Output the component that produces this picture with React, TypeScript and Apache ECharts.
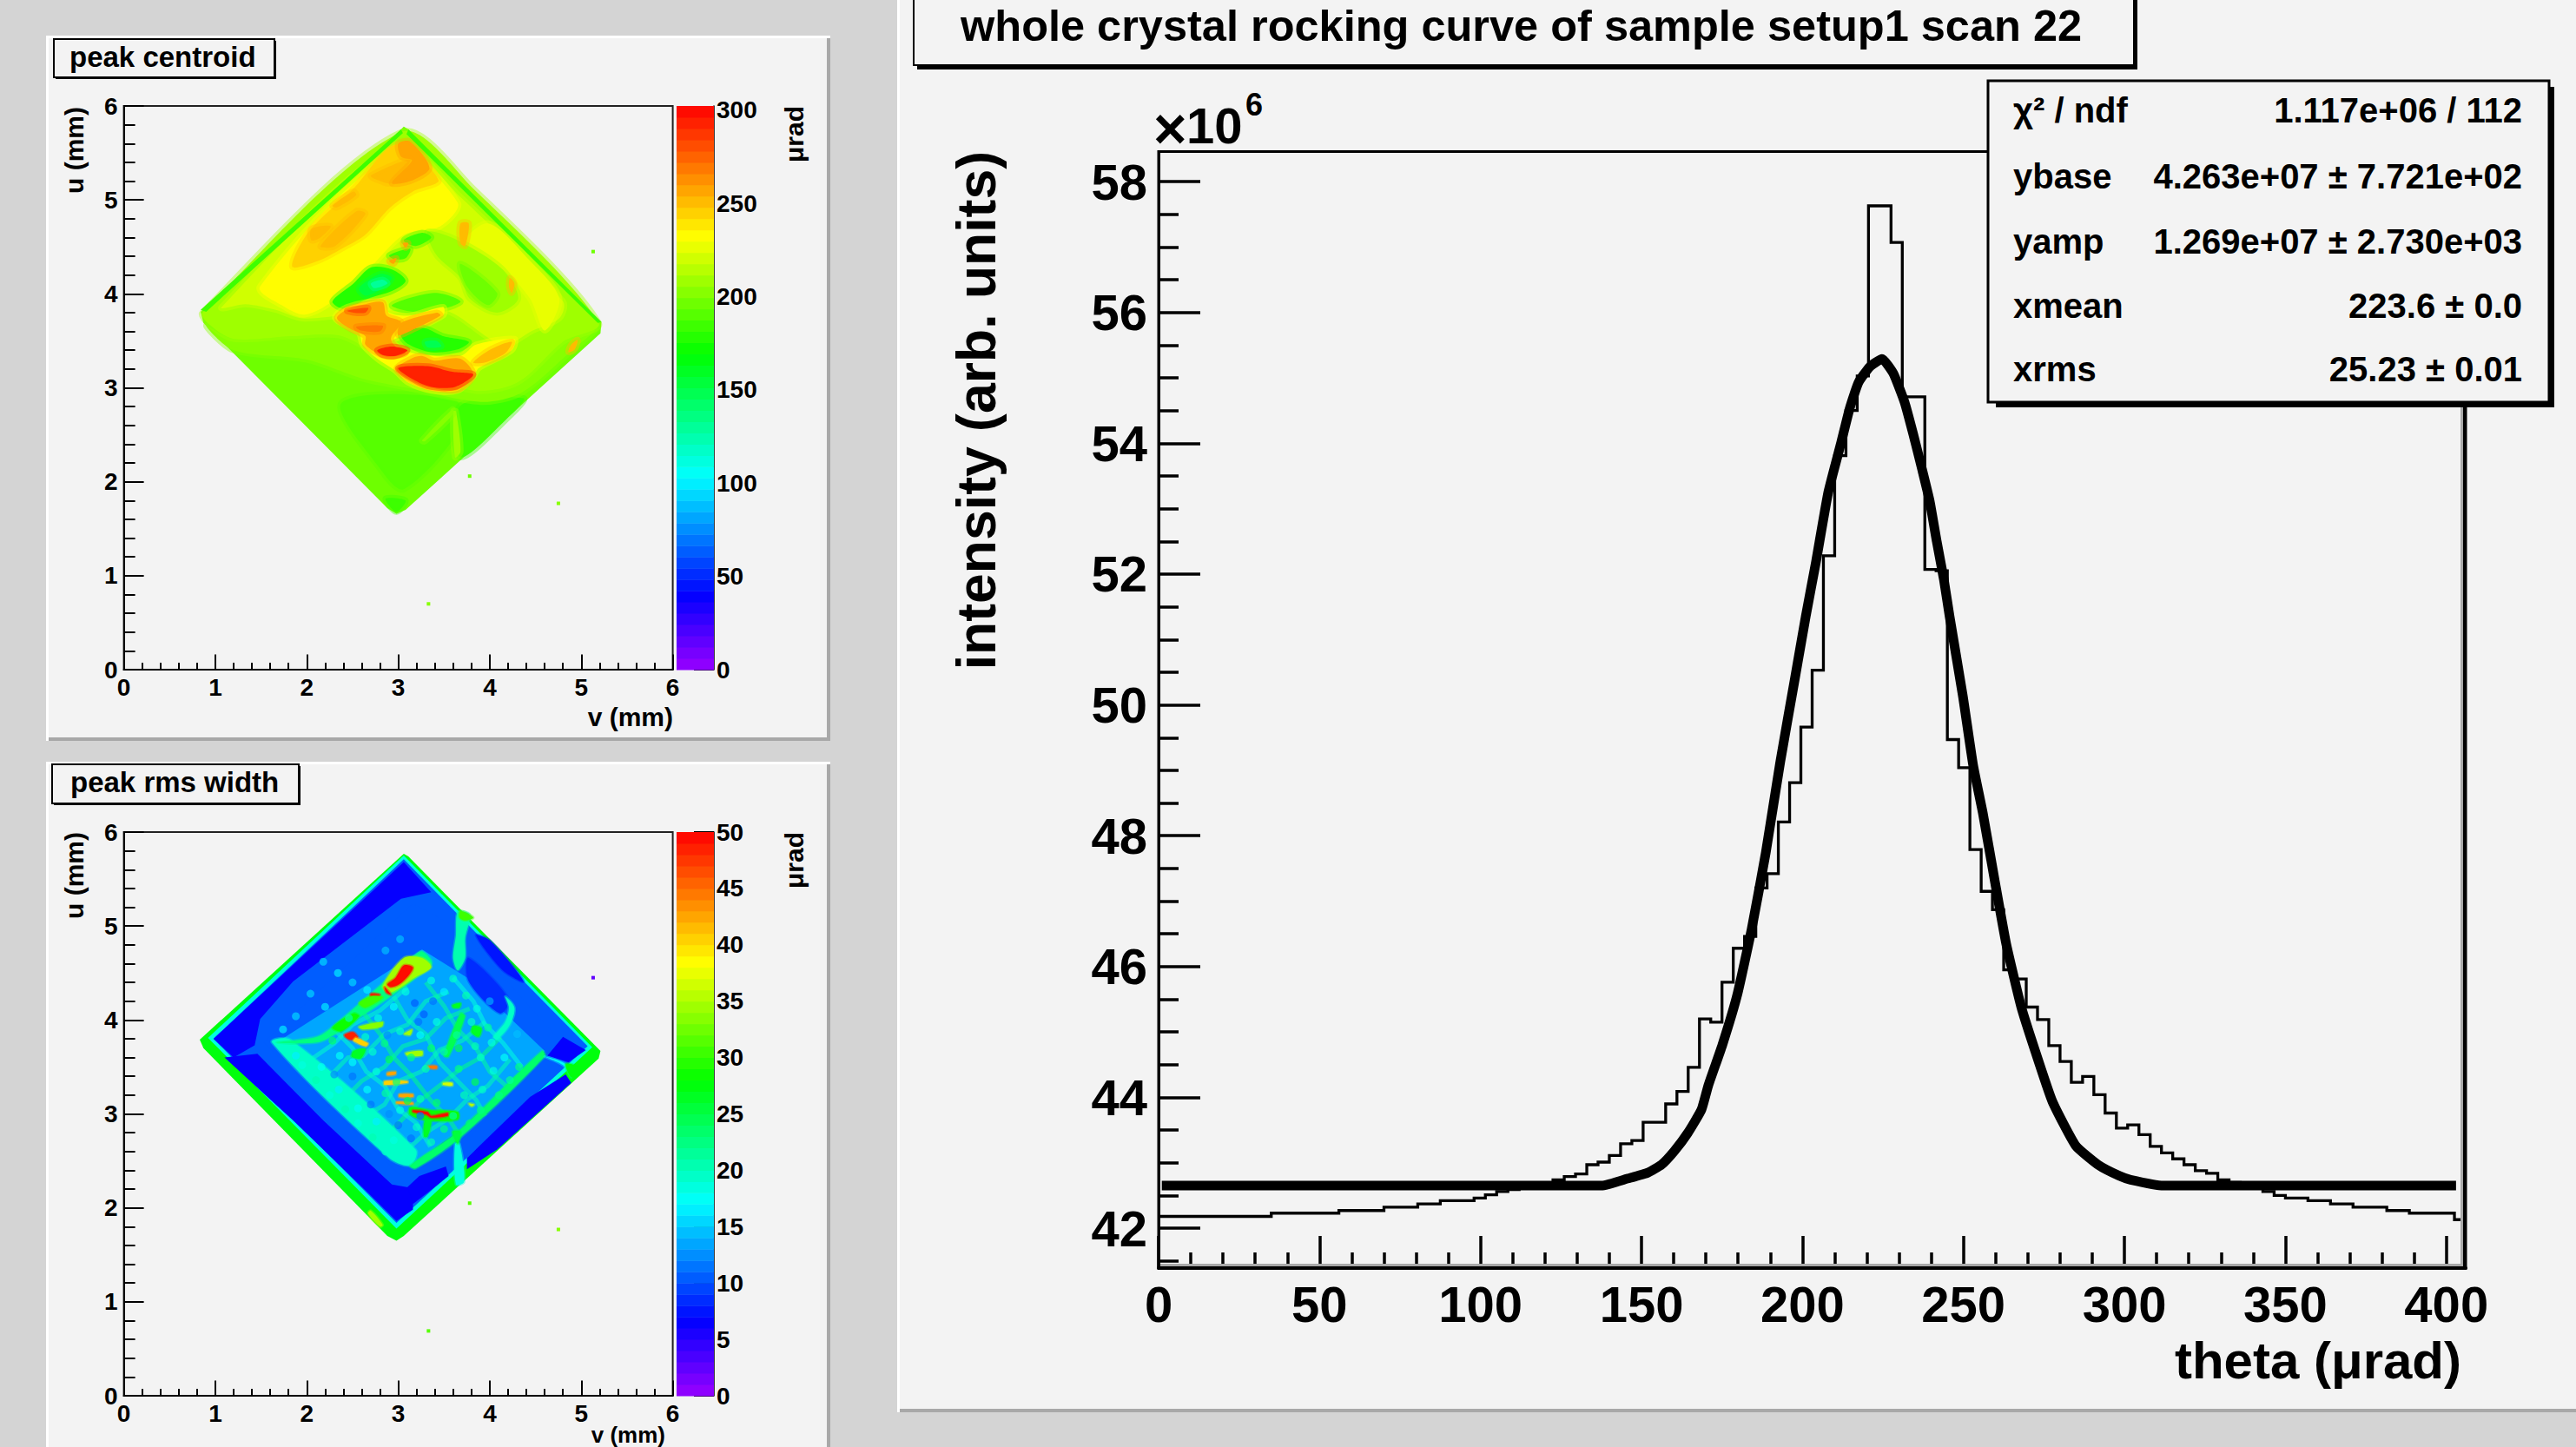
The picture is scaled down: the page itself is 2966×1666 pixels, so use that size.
import React, { useEffect, useRef } from "react";
import * as echarts from "echarts";

const FONT = '"Liberation Sans"';

// ---------- rocking curve ----------
const thetaMax = 406;
const binWidth = 3.5;
const intensityBins = [
  42.18, 42.18, 42.18, 42.18, 42.18, 42.18, 42.18, 42.18, 42.18, 42.18,
  42.23, 42.23, 42.23, 42.23, 42.23, 42.23, 42.27, 42.27, 42.27, 42.27,
  42.32, 42.32, 42.32, 42.37, 42.37, 42.42, 42.42, 42.42, 42.46, 42.51,
  42.56, 42.59, 42.62, 42.65, 42.69, 42.74, 42.79, 42.83, 42.97, 43.01,
  43.11, 43.29, 43.34, 43.62, 43.62, 43.9, 44.09, 44.46, 45.2, 45.15,
  45.76, 46.28, 46.46, 47.2, 47.42, 48.21, 48.81, 49.66, 50.53, 52.28,
  53.81, 54.5, 55.03, 57.63, 57.63, 57.07, 54.71, 54.71, 52.07, 52.05,
  49.47, 49.04, 47.79, 47.15, 46.87, 45.95, 45.81, 45.38, 45.19, 44.79,
  44.55, 44.23, 44.32, 44.04, 43.76, 43.53, 43.58, 43.43, 43.25, 43.15,
  43.06, 42.97, 42.88, 42.84, 42.74, 42.7, 42.66, 42.61, 42.56, 42.5,
  42.46, 42.46, 42.42, 42.42, 42.37, 42.37, 42.32, 42.32, 42.32, 42.27,
  42.27, 42.23, 42.23, 42.23, 42.23, 42.13,
];
const fitCurve = [
  [1, 42.65], [137.6, 42.65], [145.8, 42.76], [152, 42.85], [156.2, 42.97], [160.2, 43.18],
  [164.3, 43.45], [168.6, 43.81], [170.8, 44.19], [175.1, 44.8], [179.7, 45.56], [184.2, 46.57],
  [188.6, 47.74], [193.1, 49.13], [197.7, 50.42], [201, 51.35], [204.2, 52.19], [208, 53.25],
  [212, 54.01], [214.7, 54.54], [217.4, 54.93], [220.9, 55.17], [224.7, 55.29], [228.2, 55.07],
  [231.7, 54.63], [234.4, 54.14], [237.1, 53.61], [239.5, 53.12], [241.7, 52.5], [243.9, 51.92],
  [245.7, 51.35], [249.8, 50.14], [253, 49.08], [256, 48.35], [259.8, 47.29], [263.3, 46.34],
  [267.9, 45.39], [272.2, 44.72], [277.6, 43.94], [284.9, 43.26], [292.1, 42.96], [298.4, 42.8],
  [301.9, 42.74], [312.1, 42.65], [403, 42.65],
];
const thetaMajor = [0, 50, 100, 150, 200, 250, 300, 350, 400];
const thetaMinor = [
  10, 20, 30, 40, 60, 70, 80, 90, 110, 120, 130, 140, 160, 170, 180, 190, 210, 220, 230, 240,
  260, 270, 280, 290, 310, 320, 330, 340, 360, 370, 380, 390,
];
const intensityMajor = [42, 44, 46, 48, 50, 52, 54, 56, 58];
const intensityMinor = [
  41.5, 42.5, 43, 43.5, 44.5, 45, 45.5, 46.5, 47, 47.5, 48.5, 49, 49.5, 50.5, 51, 51.5,
  52.5, 53, 53.5, 54.5, 55, 55.5, 56.5, 57, 57.5,
];
const statLabels = ["χ² / ndf", "ybase", "yamp", "xmean", "xrms"];
const statValues = [
  "1.117e+06 / 112",
  "4.263e+07 ± 7.721e+02",
  "1.269e+07 ± 2.730e+03",
  "223.6 ± 0.0",
  "25.23 ± 0.01",
];

// ---------- maps ----------
const mmMajor = [0, 1, 2, 3, 4, 5, 6];
const mmMinor = [
  0.2, 0.4, 0.6, 0.8, 1.2, 1.4, 1.6, 1.8, 2.2, 2.4, 2.6, 2.8, 3.2, 3.4, 3.6, 3.8, 4.2, 4.4, 4.6,
  4.8, 5.2, 5.4, 5.6, 5.8,
];
const centroidTicks = [0, 50, 100, 150, 200, 250, 300];
const rmsTicks = [0, 5, 10, 15, 20, 25, 30, 35, 40, 45, 50];
const centroidMax = 302.3;
const rmsMax = 50;
const paletteStops: [number, number[]][] = [
  [0, [153, 0, 255]],
  [0.134, [0, 0, 255]],
  [0.343, [0, 255, 255]],
  [0.56, [0, 255, 0]],
  [0.768, [255, 255, 0]],
  [1, [255, 0, 0]],
];
const paletteBands = 50;

// each patch: [level, v, u, v, u, ...]
const centroidCrisp = [
  [198, 3.06, 5.78, 3.11, 5.75, 5.22, 3.7, 5.21, 3.58, 3.08, 1.7, 2.98, 1.66, 2.88, 1.72, 0.87, 3.69, 0.84, 3.81, 3.03, 5.75],
];
const centroidBlobs = [
  [192, 2.38, 2.84, 3.62, 2.87, 3.65, 2.53, 3.06, 1.92, 2.83, 2.1],
  [186, 3.68, 2.81, 4.37, 2.89, 4.24, 2.72, 3.68, 2.26],
  [184, 2.86, 1.82, 3.08, 1.8, 2.98, 1.68],
  [203, 0.9, 3.66, 1.2, 3.4, 2.0, 3.3, 2.6, 3.1, 3.1, 3.0, 3.9, 2.85, 4.35, 2.95, 4.9, 3.4, 5.15, 3.62, 4.8, 3.49, 4.31, 3.06, 3.82, 2.97, 2.97, 3.24, 2.38, 3.55, 1.85, 3.55, 1.2, 3.52],
  [208, 0.86, 3.8, 3.03, 5.72, 3.82, 5.12, 5.19, 3.69, 4.8, 3.49, 4.31, 3.06, 3.82, 2.97, 2.97, 3.24, 2.38, 3.55, 1.85, 3.55, 1.2, 3.52, 0.94, 3.67],
  [220, 1.07, 3.86, 2.98, 5.57, 3.68, 5.03, 4.8, 3.92, 4.76, 3.74, 4.47, 3.61, 4.14, 3.46, 3.49, 3.83, 2.38, 3.77, 1.95, 3.74, 1.66, 3.83, 1.33, 3.89],
  [231, 1.49, 4.08, 2.98, 5.49, 3.65, 4.97, 3.46, 4.72, 3.06, 4.63, 2.7, 4.29, 2.28, 3.92, 1.98, 3.78, 1.76, 3.86],
  [228, 3.68, 4.48, 3.98, 4.75, 4.44, 4.35, 4.76, 3.95, 4.6, 3.61, 4.44, 3.95, 4.14, 4.26],
  [246, 1.84, 4.29, 2.02, 4.66, 2.51, 5.12, 2.98, 5.59, 3.44, 5.21, 3.16, 5.09, 2.9, 4.91, 2.64, 4.63, 2.38, 4.48, 2.12, 4.35],
  [253, 2.28, 4.94, 2.51, 5.09, 2.54, 5.05, 2.33, 4.92],
  [253, 2.7, 5.26, 3.13, 5.43, 2.93, 5.18, 2.75, 5.22],
  [255, 3.0, 5.6, 3.13, 5.62, 3.34, 5.34, 3.13, 5.2, 2.93, 5.18, 3.15, 5.42, 3.03, 5.46],
  [253, 2.15, 4.51, 2.54, 4.88, 2.64, 4.85, 2.31, 4.51],
  [253, 2.05, 4.69, 2.26, 4.72, 2.15, 4.6, 2.05, 4.57],
  [208, 3.32, 4.66, 3.65, 4.57, 4.14, 4.26, 4.31, 3.95, 4.08, 3.8, 3.78, 3.95, 3.68, 4.17, 3.42, 4.41],
  [195, 3.68, 4.32, 4.08, 4.01, 3.98, 3.88, 3.75, 4.08],
  [180, 2.28, 3.92, 2.51, 4.11, 2.7, 4.28, 2.93, 4.26, 3.08, 4.14, 2.93, 4.03, 2.67, 3.95, 2.41, 3.84],
  [155, 2.57, 4.06, 2.8, 4.21, 2.93, 4.17, 2.83, 4.06, 2.64, 3.98],
  [128, 2.7, 4.11, 2.83, 4.15, 2.88, 4.11, 2.74, 4.06],
  [182, 3.06, 4.57, 3.26, 4.65, 3.36, 4.6, 3.19, 4.51],
  [182, 2.9, 4.41, 3.13, 4.48, 3.08, 4.38, 2.95, 4.37],
  [188, 2.93, 3.88, 3.39, 4.01, 3.68, 3.92, 3.49, 3.84, 3.16, 3.81],
  [232, 2.31, 3.74, 2.44, 3.86, 2.83, 3.92, 2.9, 3.8, 3.13, 3.77, 3.49, 3.86, 3.49, 3.77, 3.03, 3.55, 2.93, 3.49, 3.16, 3.37, 3.68, 3.34, 3.85, 3.46, 4.27, 3.52, 4.24, 3.4, 3.88, 3.21, 3.82, 3.12, 3.65, 2.97, 3.36, 2.97, 3.1, 3.06, 2.97, 3.18, 2.77, 3.31, 2.61, 3.46, 2.57, 3.58],
  [178, 3.03, 3.57, 3.26, 3.64, 3.49, 3.55, 3.77, 3.49, 3.65, 3.41, 3.36, 3.38, 3.1, 3.47],
  [150, 3.29, 3.49, 3.42, 3.5, 3.47, 3.44, 3.32, 3.43],
  [256, 2.43, 3.83, 2.64, 3.89, 2.83, 3.91, 2.87, 3.77, 3.03, 3.7, 2.92, 3.53, 2.98, 3.43, 3.08, 3.37, 2.9, 3.33, 2.77, 3.37, 2.64, 3.46, 2.64, 3.55, 2.47, 3.63, 2.33, 3.74],
  [256, 3.03, 3.69, 3.42, 3.8, 3.46, 3.77, 3.16, 3.62, 3.0, 3.56],
  [283, 2.44, 3.82, 2.67, 3.85, 2.64, 3.8, 2.51, 3.8],
  [272, 2.54, 3.65, 2.83, 3.66, 2.8, 3.6, 2.59, 3.61],
  [292, 2.77, 3.4, 2.93, 3.44, 3.1, 3.4, 2.97, 3.34, 2.83, 3.35],
  [258, 3.16, 3.32, 3.26, 3.34, 3.39, 3.29, 3.68, 3.31, 3.82, 3.14, 3.65, 2.98, 3.36, 3.0, 3.16, 3.07, 2.98, 3.2],
  [292, 3.0, 3.21, 3.32, 3.23, 3.59, 3.17, 3.82, 3.14, 3.62, 3.01, 3.36, 3.01, 3.16, 3.09],
  [250, 3.82, 3.27, 4.01, 3.41, 4.24, 3.49, 4.17, 3.37, 3.95, 3.27],
  [250, 3.68, 4.75, 3.77, 4.75, 3.73, 4.51, 3.68, 4.54],
  [250, 4.22, 4.17, 4.27, 4.11, 4.24, 4.01, 4.21, 4.08],
  [250, 4.89, 3.46, 4.96, 3.51, 4.93, 3.41, 4.86, 3.38],
  [255, 2.9, 4.35, 2.98, 4.38, 2.95, 4.32],
  [255, 3.05, 4.54, 3.11, 4.54, 3.08, 4.49],
  [208, 3.6, 2.75, 3.63, 2.75, 3.68, 2.32, 3.62, 2.26],
  [204, 3.26, 2.44, 3.59, 2.77, 3.6, 2.72, 3.29, 2.43],
];
const centroidEdges = [
  [186, 3.11, 5.75, 5.22, 3.7, 5.18, 3.69, 3.09, 5.7],
  [186, 0.84, 3.83, 3.03, 5.75, 3.05, 5.71, 0.9, 3.81],
];
const centroidDots = [[3.78, 2.06, 195], [4.75, 1.77, 205], [5.13, 4.45, 195], [3.33, 0.7, 205]];

const rmsCrisp = [
  [27, 3.06, 5.77, 3.11, 5.74, 5.21, 3.67, 5.19, 3.59, 3.06, 1.7, 2.98, 1.65, 2.88, 1.7, 0.87, 3.7, 0.83, 3.79],
  [18, 3.06, 5.75, 5.12, 3.71, 2.98, 1.78, 0.92, 3.81],
  [10, 3.06, 5.71, 5.07, 3.72, 2.98, 1.84, 0.98, 3.8],
  [6.5, 0.98, 3.8, 3.06, 5.68, 3.36, 5.36, 3.03, 5.29, 2.64, 5.0, 1.85, 4.41, 1.49, 4.01, 1.43, 3.73, 1.2, 3.6],
  [6.5, 1.1, 3.6, 1.46, 3.64, 2.18, 2.93, 2.93, 2.25, 3.16, 2.21, 3.16, 1.98, 2.98, 1.86, 2.7, 2.13, 1.85, 2.93],
  [10.5, 1.53, 3.76, 3.16, 5.24, 3.68, 4.96, 4.76, 3.79, 4.57, 3.55, 3.65, 2.62, 3.03, 2.34],
  [6.5, 3.75, 2.53, 4.44, 3.18, 4.83, 3.42, 4.89, 3.33, 4.08, 2.62, 3.75, 2.41],
  [6.5, 3.23, 2.34, 3.52, 2.44, 3.55, 2.34, 3.32, 2.16, 3.16, 2.04, 3.1, 2.22],
  [6.5, 4.63, 3.62, 4.8, 3.82, 5.05, 3.68, 4.86, 3.55],
  [13.5, 1.67, 3.76, 3.26, 4.75, 3.77, 4.44, 4.6, 3.67, 3.65, 2.81, 3.13, 2.45],
];
// crooked network lines of the mottled inner square: [level, v, u, v, u, ...]
const rmsNetwork = [
  [19, 2.0, 3.55, 2.3, 3.75, 2.5, 3.95, 2.8, 4.1, 3.1, 4.35],
  [20, 2.2, 3.35, 2.45, 3.6, 2.62, 3.62, 2.85, 3.85, 3.1, 3.95, 3.3, 4.2, 3.55, 4.3],
  [21, 2.4, 3.15, 2.6, 3.35, 2.85, 3.5, 3.05, 3.72, 3.3, 3.8, 3.52, 4.02, 3.78, 4.12],
  [20, 2.6, 2.95, 2.85, 3.1, 3.0, 3.35, 3.25, 3.45, 3.45, 3.68, 3.7, 3.78, 3.95, 3.98],
  [22, 2.85, 2.75, 3.05, 2.95, 3.25, 3.15, 3.45, 3.3, 3.68, 3.48, 3.9, 3.6, 4.12, 3.82],
  [20, 3.1, 2.62, 3.3, 2.8, 3.55, 2.95, 3.75, 3.15, 3.98, 3.3, 4.22, 3.58],
  [19, 2.3, 3.9, 2.5, 3.7, 2.65, 3.45, 2.85, 3.3, 3.0, 3.05, 3.2, 2.9, 3.35, 2.65],
  [22, 2.6, 4.1, 2.8, 3.85, 2.95, 3.6, 3.15, 3.4, 3.35, 3.15, 3.55, 2.95, 3.65, 2.8],
  [20, 2.95, 4.25, 3.1, 4.0, 3.3, 3.85, 3.45, 3.55, 3.65, 3.35, 3.85, 3.15, 3.95, 2.98],
  [21, 3.3, 4.4, 3.5, 4.15, 3.65, 3.9, 3.85, 3.7, 4.0, 3.45, 4.2, 3.28],
  [18, 3.6, 4.45, 3.82, 4.2, 3.95, 3.95, 4.15, 3.75, 4.35, 3.5],
];
const rmsBlobs = [
  [7.5, 3.85, 4.9, 4.01, 4.84, 4.37, 4.41, 4.14, 4.53],
  [8.5, 3.77, 4.66, 4.21, 4.22, 4.11, 4.07, 3.77, 4.41],
  [19.5, 1.62, 3.76, 1.82, 3.79, 3.19, 2.62, 3.13, 2.45, 2.9, 2.53],
  [23, 3.13, 2.45, 3.65, 2.81, 4.57, 3.67, 4.6, 3.61, 3.68, 2.75, 3.19, 2.42],
  [22, 1.67, 3.76, 2.11, 3.82, 2.31, 3.95, 3.16, 4.67, 3.26, 4.73, 3.36, 4.59, 2.31, 3.85, 2.11, 3.76],
  [20, 3.65, 5.15, 3.78, 5.12, 3.73, 4.87, 3.73, 4.66, 3.65, 4.53, 3.6, 4.66, 3.63, 4.9],
  [30, 3.68, 5.16, 3.82, 5.09, 3.73, 5.06, 3.67, 5.09],
  [19, 4.17, 4.25, 4.27, 4.13, 4.22, 3.95, 4.08, 3.79, 4.04, 3.82, 4.17, 3.98, 4.21, 4.13],
  [18.5, 3.62, 2.68, 3.67, 2.68, 3.72, 2.28, 3.63, 2.25],
  [25, 3.59, 2.81, 3.68, 2.81, 3.65, 2.68],
  [17, 4.6, 3.61, 4.83, 3.53, 4.89, 3.39, 4.8, 3.52],
  [27, 4.83, 3.53, 4.94, 3.51, 4.96, 3.42, 4.89, 3.39],
  [34, 2.7, 1.97, 2.83, 1.82, 2.8, 1.8, 2.67, 1.94],
  [34, 2.83, 4.36, 3.06, 4.66, 3.26, 4.66, 3.36, 4.56, 3.16, 4.44, 3.03, 4.35, 2.9, 4.29],
  [49, 2.88, 4.38, 2.97, 4.45, 3.06, 4.58, 3.16, 4.56, 3.11, 4.47, 3.01, 4.38, 2.92, 4.35],
  [49, 2.7, 4.28, 2.8, 4.27, 2.77, 4.24, 2.7, 4.24],
  [49, 2.85, 4.35, 2.92, 4.27, 2.87, 4.29],
  [30, 2.57, 4.18, 2.7, 4.25, 2.83, 4.24, 2.64, 4.13],
  [28, 2.28, 3.92, 2.51, 4.07, 2.57, 4.04, 2.38, 3.88],
  [33, 2.57, 3.93, 2.83, 3.98, 2.82, 3.93, 2.61, 3.9],
  [48, 2.41, 3.84, 2.51, 3.87, 2.56, 3.81, 2.47, 3.79],
  [40, 2.54, 3.81, 2.67, 3.75, 2.64, 3.72, 2.51, 3.78],
  [26, 2.51, 3.67, 2.64, 3.69, 2.59, 3.59, 2.49, 3.61],
  [26, 3.59, 4.16, 3.68, 4.18, 3.67, 4.13, 3.6, 4.13],
  [26, 3.82, 3.94, 3.91, 3.91, 3.88, 3.82, 3.8, 3.87],
  [24, 3.68, 4.07, 3.73, 4.04, 3.55, 3.61, 3.5, 3.62],
  [28, 3.13, 3.07, 3.36, 3.04, 3.65, 3.02, 3.65, 2.94, 3.32, 2.93, 3.13, 2.99],
  [26, 3.29, 2.93, 3.36, 2.93, 3.32, 2.76, 3.28, 2.76],
  [34, 3.06, 3.85, 3.15, 3.9, 3.13, 3.84],
  [34, 3.08, 3.65, 3.26, 3.67, 3.26, 3.62, 3.1, 3.62],
  [44, 3.32, 3.51, 3.42, 3.51, 3.42, 3.48, 3.32, 3.49],
  [42, 2.88, 3.44, 2.97, 3.45, 2.97, 3.42, 2.88, 3.41],
  [40, 2.85, 3.35, 3.1, 3.35, 3.1, 3.33, 2.85, 3.31],
  [42, 3.01, 3.21, 3.16, 3.21, 3.16, 3.18, 3.01, 3.18],
  [42, 2.98, 3.13, 3.16, 3.12, 3.16, 3.1, 2.98, 3.11],
  [36, 3.49, 3.33, 3.59, 3.33, 3.59, 3.3, 3.49, 3.31],
  [35, 3.77, 3.11, 3.83, 3.1, 3.8, 3.08],
  [50, 3.16, 3.04, 3.32, 3.02, 3.36, 2.98, 3.54, 3.01, 3.54, 2.98, 3.36, 2.96, 3.31, 2.99, 3.16, 3.02],
];
// v, u, level of the mottling inside the inner square
const rmsSpeckle = [
  [1.95, 3.52, 18], [2.1, 3.36, 20], [2.25, 3.2, 18], [2.42, 3.05, 20], [2.56, 2.9, 18], [2.72, 2.75, 20],
  [2.86, 2.6, 19], [1.88, 3.62, 16], [2.16, 3.5, 17], [2.35, 3.26, 16], [2.56, 3.06, 17], [2.76, 2.92, 16],
  [2.95, 2.72, 18], [2.5, 3.55, 17], [2.72, 3.66, 19], [2.36, 3.62, 17], [2.85, 3.75, 22], [2.76, 3.45, 18],
  [2.66, 3.26, 17], [2.86, 3.22, 21], [3.02, 3.04, 18], [3.2, 2.86, 19], [3.36, 2.7, 20], [3.5, 2.84, 22],
  [3.24, 3.16, 20], [3.42, 3.12, 23], [3.6, 2.98, 21], [3.78, 2.9, 23], [3.9, 3.04, 22], [3.72, 3.2, 20],
  [3.92, 3.26, 19], [4.1, 3.2, 22], [4.22, 3.36, 21], [4.04, 3.46, 18], [4.32, 3.5, 22], [4.16, 3.6, 17],
  [3.9, 3.6, 19], [3.66, 3.48, 22], [3.5, 3.66, 21], [3.3, 3.48, 20], [3.14, 3.6, 22], [3.02, 3.88, 19],
  [3.24, 3.84, 17], [3.42, 3.98, 18], [3.64, 3.84, 21], [3.84, 3.72, 20], [4.02, 3.76, 18], [3.8, 3.98, 19],
  [3.98, 3.92, 21], [2.46, 4.02, 20], [2.64, 3.82, 19], [2.78, 4.02, 18], [2.95, 4.14, 17], [3.08, 4.3, 18],
  [3.36, 4.42, 18], [3.5, 4.3, 16], [3.6, 4.44, 19], [3.74, 4.26, 20], [3.86, 4.12, 18], [2.28, 3.78, 23],
  [2.98, 3.34, 22], [3.1, 3.14, 24], [2.9, 3.58, 24], [3.36, 3.7, 23], [3.66, 3.7, 24], [3.84, 3.34, 24],
  [3.24, 2.98, 11], [3.0, 2.88, 11], [2.9, 3.0, 12], [3.14, 2.74, 11], [2.7, 3.1, 11], [2.5, 3.4, 11],
  [2.3, 3.42, 12], [3.18, 4.18, 10], [3.28, 4.06, 10], [3.38, 4.2, 11], [3.22, 3.98, 11], [2.88, 3.84, 12],
  [2.18, 4.62, 15], [2.34, 4.5, 16], [2.5, 4.4, 15], [2.66, 4.32, 16], [2.04, 4.28, 15], [2.2, 4.14, 16],
  [1.88, 4.04, 15], [1.74, 3.9, 16], [2.86, 4.74, 14], [3.02, 4.86, 14], [4.0, 4.2, 13], [4.3, 3.85, 14],
];
const rmsDots = [[3.78, 2.05, 31], [4.75, 1.77, 33], [5.13, 4.45, 2], [3.33, 0.69, 31]];

// ---------- helpers ----------
function paletteColor(level: number, max: number): string {
  const band = Math.min(paletteBands - 1, Math.max(0, Math.floor((level / max) * paletteBands)));
  const f = (band + 0.5) / paletteBands;
  for (let i = 1; i < paletteStops.length; i++) {
    const [f1, c1] = paletteStops[i];
    if (f <= f1) {
      const [f0, c0] = paletteStops[i - 1];
      const t = (f - f0) / (f1 - f0);
      return `rgb(${c0.map((c, k) => Math.round(c + (c1[k] - c) * t)).join(",")})`;
    }
  }
  return "rgb(255,0,0)";
}

function pointsOf(p: number[], api: any) {
  const points: number[][] = [];
  for (let i = 1; i + 1 < p.length; i += 2) points.push(api.coord([p[i], p[i + 1]]));
  return points;
}

function patchSeries(list: number[][], max: number, xi: number, yi: number, smooth: number, soft: number) {
  return {
    type: "custom",
    coordinateSystem: "cartesian2d",
    xAxisIndex: xi,
    yAxisIndex: yi,
    silent: true,
    clip: true,
    data: list.map((p) => [p[1], p[2], p[0]]),
    encode: { x: 0, y: 1 },
    renderItem: (params: any, api: any) => {
      const p = list[params.dataIndex];
      const fill = paletteColor(p[0], max);
      return {
        type: "polygon",
        shape: { points: pointsOf(p, api), smooth },
        style: soft
          ? { fill, stroke: fill, lineWidth: soft, strokeOpacity: 0.4, lineJoin: "round" }
          : { fill },
      };
    },
  };
}

function networkSeries(list: number[][], max: number, xi: number, yi: number, width: number) {
  return {
    type: "custom",
    coordinateSystem: "cartesian2d",
    xAxisIndex: xi,
    yAxisIndex: yi,
    silent: true,
    clip: true,
    data: list.map((p) => [p[1], p[2], p[0]]),
    encode: { x: 0, y: 1 },
    renderItem: (params: any, api: any) => {
      const p = list[params.dataIndex];
      return {
        type: "polyline",
        shape: { points: pointsOf(p, api) },
        style: { fill: "none", stroke: paletteColor(p[0], max), lineWidth: width, opacity: 0.55 },
      };
    },
  };
}

function paletteSeries(max: number, xi: number, yi: number) {
  const bands = Array.from({ length: paletteBands }, (_, i) => i);
  return {
    type: "custom",
    coordinateSystem: "cartesian2d",
    xAxisIndex: xi,
    yAxisIndex: yi,
    silent: true,
    data: bands.map((i) => [0, (i * max) / paletteBands]),
    encode: { x: 0, y: 1 },
    renderItem: (params: any, api: any) => {
      const i = params.dataIndex;
      const a = api.coord([0, ((i + 1) * max) / paletteBands]);
      const b = api.coord([1, (i * max) / paletteBands]);
      return {
        type: "rect",
        shape: { x: a[0], y: a[1], width: b[0] - a[0], height: b[1] - a[1] + 0.5 },
        style: { fill: paletteColor(((i + 0.5) * max) / paletteBands, max) },
      };
    },
  };
}

function dotSeries(list: number[][], max: number, xi: number, yi: number, symbol: string, size: number, opacity: number) {
  return {
    type: "scatter",
    xAxisIndex: xi,
    yAxisIndex: yi,
    symbol,
    symbolSize: size,
    silent: true,
    data: list,
    itemStyle: { color: (p: any) => paletteColor(p.value[2], max), opacity },
  };
}

function axis(o: any) {
  return {
    gridIndex: o.grid,
    type: "value",
    min: o.min,
    max: o.max,
    position: o.position,
    axisLine: { show: !!o.line, onZero: false, lineStyle: { color: "#000", width: o.line || 0 } },
    axisTick: {
      show: true,
      inside: true,
      length: o.tick,
      customValues: o.ticks,
      lineStyle: { color: "#000", width: o.tickWidth },
    },
    axisLabel: o.font
      ? {
          show: true,
          customValues: o.ticks,
          margin: o.margin,
          fontSize: o.font,
          fontFamily: FONT,
          fontWeight: "bold",
          color: "#000",
          hideOverlap: false,
        }
      : { show: false },
    splitLine: { show: false },
  };
}

function mapAxes(grid: number, paletteGrid: number, ticks: number[], zMax: number) {
  const x = [
    axis({ grid, min: 0, max: 6, position: "bottom", line: 2, tick: 17.5, ticks: mmMajor, tickWidth: 2, font: 28, margin: 6 }),
    axis({ grid, min: 0, max: 6, position: "bottom", tick: 8, ticks: mmMinor, tickWidth: 2 }),
    { gridIndex: paletteGrid, type: "value", min: 0, max: 1, show: false },
  ];
  const y = [
    axis({ grid, min: 0, max: 6, position: "left", line: 2, tick: 23, ticks: mmMajor, tickWidth: 2, font: 28, margin: 7 }),
    axis({ grid, min: 0, max: 6, position: "left", tick: 13, ticks: mmMinor, tickWidth: 2 }),
    axis({ grid: paletteGrid, min: 0, max: zMax, position: "right", line: 1.5, tick: 23, ticks, tickWidth: 2, font: 28, margin: 3 }),
  ];
  return { x, y };
}

const rect = (x: number, y: number, w: number, h: number, fill: string, z: number, extra: any = {}) => ({
  type: "rect",
  z,
  silent: true,
  shape: { x, y, width: w, height: h },
  style: { fill, ...extra },
});

const label = (text: string, x: number, y: number, size: number, align: string, z = 120, rotation = 0) => ({
  type: "text",
  z,
  x,
  y,
  rotation,
  silent: true,
  style: {
    text,
    fill: "#000",
    fontFamily: FONT,
    fontWeight: "bold",
    fontSize: size,
    lineHeight: size,
    textAlign: align,
    textVerticalAlign: "middle",
  },
});

function panel(x: number, y: number, w: number, h: number) {
  return [
    rect(x, y, w, h, "#ffffff", -3),
    rect(x + 3, y + 3, w - 3, h - 3, "#a8a8a8", -2),
    rect(x + 3, y + 3, w - 7, h - 7, "#f3f3f3", -1),
  ];
}

function titleBox(x: number, y: number, w: number, h: number, sx: number, sy: number) {
  return [
    rect(x + sx, y + sy, w, h, "#000", 100),
    rect(x, y, w, h, "#f3f3f3", 101, { stroke: "#000", lineWidth: 2 }),
  ];
}

const statRows = [127, 203, 278, 352, 425];
const graphics: any[] = [
  ...panel(53, 41, 903, 812),
  ...panel(53, 877, 903, 800),
  ...panel(1033, -10, 1945, 1636),
  ...titleBox(62, 45, 254, 44, 2, 2),
  label("peak centroid", 80, 65, 33, "left"),
  ...titleBox(60, 880, 284, 45, 2, 2),
  label("peak rms width", 81, 900, 33, "left"),
  label("v (mm)", 775, 825, 30, "right"),
  label("u (mm)", 85, 123, 30, "right", 120, Math.PI / 2),
  label("μrad", 914, 122, 30, "right", 120, Math.PI / 2),
  label("v (mm)", 766, 1652, 26, "right"),
  label("u (mm)", 85, 958, 30, "right", 120, Math.PI / 2),
  label("μrad", 914, 958, 30, "right", 120, Math.PI / 2),
  ...titleBox(1052, -6, 1405, 81, 4, 5),
  label("whole crystal rocking curve of sample setup1 scan 22", 1106, 29, 50.5, "left"),
  label("intensity (arb. units)", 1124, 174, 62.5, "right", 120, Math.PI / 2),
  label("theta (μrad)", 2834, 1566, 60, "right"),
  label("×", 1328, 148, 66, "left"),
  label("10", 1366, 144, 58, "left"),
  label("6", 1434, 120, 36, "left"),
  rect(2833, 174, 3, 1284, "#a8a8a8", 50),
  rect(2836, 174, 4, 1288, "#000", 50),
  rect(1336, 1455, 1497, 3, "#a8a8a8", 50),
  rect(1333, 1458, 1507, 4, "#000", 50),
  rect(2298, 100, 643, 369, "#000", 100),
  rect(2289, 93, 646, 370, "#f3f3f3", 101, { stroke: "#000", lineWidth: 3 }),
  ...statLabels.map((t, i) => label(t, 2318, statRows[i], 40, "left")),
  ...statValues.map((t, i) => label(t, 2904, statRows[i], 40, "right")),
];

const mapTop = mapAxes(0, 1, centroidTicks, centroidMax);
const mapBottom = mapAxes(2, 3, rmsTicks, rmsMax);

const option: any = {
  animation: false,
  backgroundColor: "#d4d4d4",
  grid: [
    { left: 142.6, top: 122, width: 632, height: 649, show: true, borderColor: "#222", borderWidth: 2 },
    { left: 779, top: 122, width: 43, height: 649 },
    { left: 142.6, top: 958, width: 632, height: 649, show: true, borderColor: "#222", borderWidth: 2 },
    { left: 779, top: 958, width: 43, height: 649 },
    { left: 1334, top: 174.5, width: 1505, height: 1285.5, show: true, borderColor: "#000", borderWidth: 3 },
  ],
  xAxis: [
    ...mapTop.x,
    ...mapBottom.x,
    axis({ grid: 4, min: 0, max: thetaMax, position: "bottom", line: 4, tick: 37, ticks: thetaMajor, tickWidth: 3.5, font: 58, margin: 12 }),
    axis({ grid: 4, min: 0, max: thetaMax, position: "bottom", tick: 18, ticks: thetaMinor, tickWidth: 3.5 }),
  ],
  yAxis: [
    ...mapTop.y,
    ...mapBottom.y,
    axis({ grid: 4, min: 41.39, max: 58.46, position: "left", line: 3, tick: 48, ticks: intensityMajor, tickWidth: 3.5, font: 58, margin: 13 }),
    axis({ grid: 4, min: 41.39, max: 58.46, position: "left", tick: 23, ticks: intensityMinor, tickWidth: 3.5 }),
  ],
  graphic: { elements: graphics },
  series: [
    patchSeries(centroidCrisp, centroidMax, 0, 0, 0, 0),
    patchSeries(centroidBlobs, centroidMax, 0, 0, 0.3, 7),
    patchSeries(centroidEdges, centroidMax, 0, 0, 0, 0),
    dotSeries(centroidDots, centroidMax, 0, 0, "rect", 4, 1),
    paletteSeries(centroidMax, 2, 2),
    patchSeries(rmsCrisp, rmsMax, 3, 3, 0, 0),
    networkSeries(rmsNetwork, rmsMax, 3, 3, 5),
    dotSeries(rmsSpeckle, rmsMax, 3, 3, "circle", 9, 0.7),
    patchSeries(rmsBlobs, rmsMax, 3, 3, 0.3, 3),
    dotSeries(rmsDots, rmsMax, 3, 3, "rect", 4, 1),
    paletteSeries(rmsMax, 5, 5),
    {
      type: "line",
      xAxisIndex: 6,
      yAxisIndex: 6,
      step: "end",
      showSymbol: false,
      silent: true,
      clip: true,
      lineStyle: { color: "#000", width: 3.3, join: "miter" },
      data: [
        ...intensityBins.map((v, i) => [i * binWidth, v]),
        [thetaMax, intensityBins[intensityBins.length - 1]],
      ],
    },
    {
      type: "line",
      xAxisIndex: 6,
      yAxisIndex: 6,
      showSymbol: false,
      silent: true,
      clip: true,
      smooth: 0.15,
      lineStyle: { color: "#000", width: 11, cap: "butt", join: "round" },
      data: fitCurve,
    },
  ],
};

export default function App() {
  const ref = useRef<HTMLDivElement>(null);
  useEffect(() => {
    document.body.style.margin = "0";
    document.body.style.overflow = "hidden";
    const chart = echarts.init(ref.current!, undefined, { renderer: "svg", width: 2966, height: 1666 });
    chart.setOption(option);
    return () => chart.dispose();
  }, []);
  return <div ref={ref} style={{ width: 2966, height: 1666 }} />;
}
